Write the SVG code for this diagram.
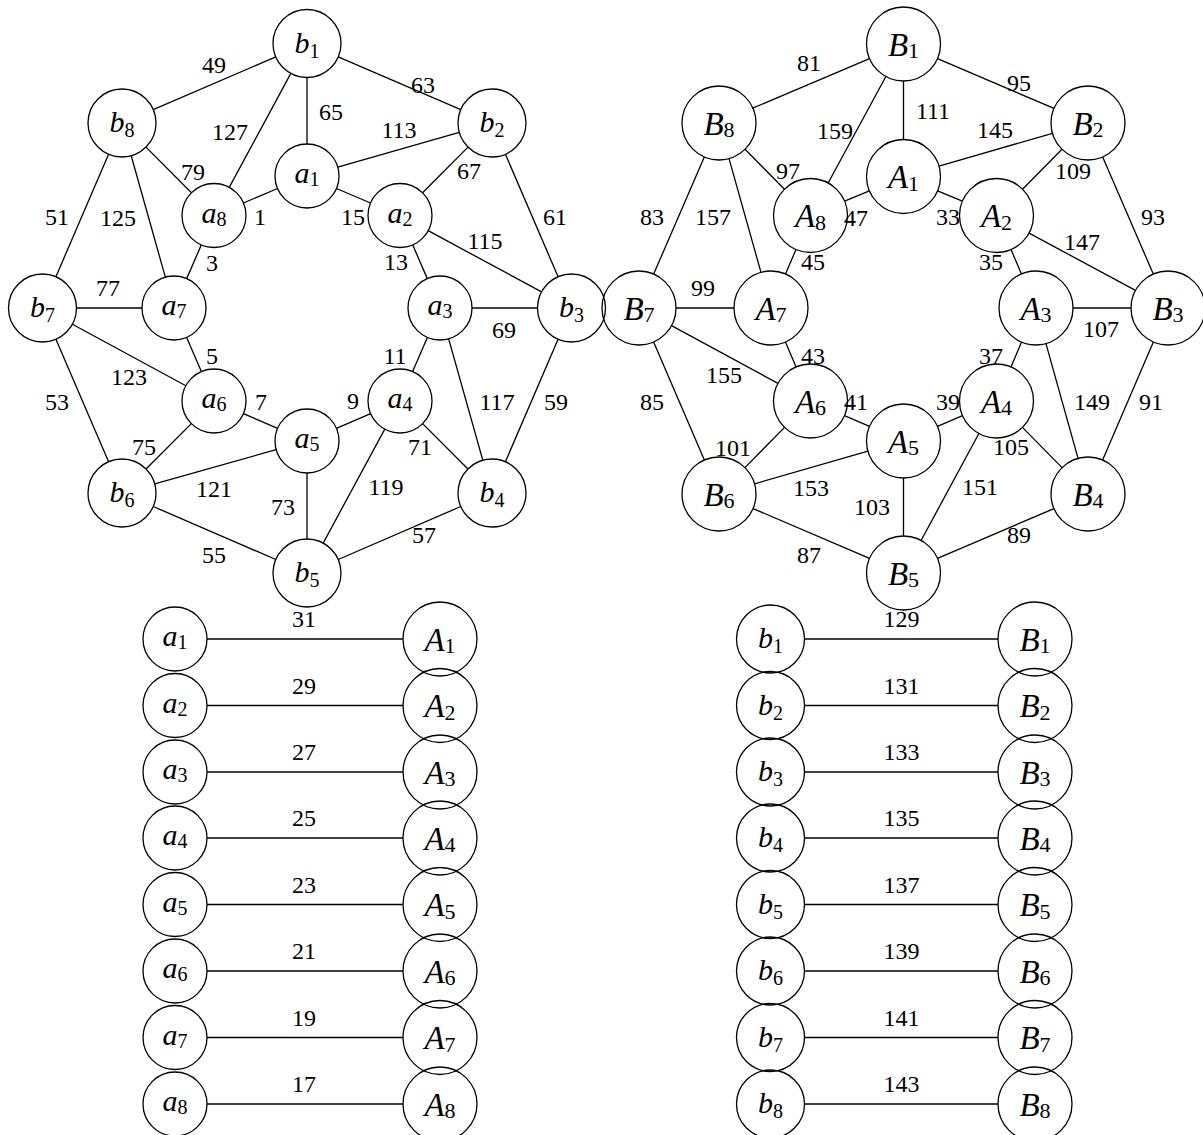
<svg xmlns="http://www.w3.org/2000/svg" width="1203" height="1135" viewBox="0 0 1203 1135">
<style>
.n{fill:none;stroke:#000;stroke-width:1.3}
.e line{stroke:#000;stroke-width:1.3}
.lbl text{font-family:"Liberation Serif","Times New Roman",serif;font-size:24px;text-anchor:middle;fill:#000}
.nl{font-family:"Liberation Serif","Times New Roman",serif;font-size:30px;font-style:italic;text-anchor:middle;fill:#000}
.nu{font-size:33px}
.s{font-style:normal;font-size:20px}
.su{font-style:normal;font-size:22px}
</style>
<rect width="1203" height="1135" fill="#fff"/>
<g id="connectors" class="e">
<line x1="275.76" y1="56.92" x2="153.24" y2="109.58"/>
<line x1="338.24" y1="56.92" x2="460.76" y2="109.58"/>
<line x1="307" y1="77.5" x2="307" y2="144"/>
<line x1="290.83" y1="73.41" x2="229.22" y2="187.35"/>
<line x1="145.97" y1="147.11" x2="191.44" y2="192.81"/>
<line x1="108.58" y1="154.24" x2="55.92" y2="276.76"/>
<line x1="131.2" y1="155.73" x2="165.34" y2="277.19"/>
<line x1="243.45" y1="202.99" x2="277.55" y2="188.51"/>
<line x1="201.3" y1="244.87" x2="186.7" y2="278.63"/>
<line x1="76.5" y1="308" x2="142" y2="308"/>
<line x1="459.32" y1="132.36" x2="337.76" y2="167.19"/>
<line x1="468.03" y1="147.11" x2="422.56" y2="192.81"/>
<line x1="505.42" y1="154.24" x2="558.08" y2="276.76"/>
<line x1="336.45" y1="188.51" x2="370.55" y2="202.99"/>
<line x1="428.17" y1="230.69" x2="541.57" y2="291.86"/>
<line x1="412.7" y1="244.87" x2="427.3" y2="278.63"/>
<line x1="472" y1="308" x2="537.5" y2="308"/>
<line x1="427.36" y1="337.4" x2="412.64" y2="371.6"/>
<line x1="448.66" y1="338.81" x2="482.8" y2="460.27"/>
<line x1="558.08" y1="339.24" x2="505.42" y2="461.76"/>
<line x1="370.6" y1="413.64" x2="336.4" y2="428.36"/>
<line x1="422.63" y1="423.63" x2="467.96" y2="468.96"/>
<line x1="384.78" y1="429.15" x2="323.17" y2="543.09"/>
<line x1="460.79" y1="506.5" x2="338.21" y2="559.5"/>
<line x1="186.64" y1="337.4" x2="201.36" y2="371.6"/>
<line x1="72.39" y1="324.21" x2="185.87" y2="385.75"/>
<line x1="55.92" y1="339.24" x2="108.58" y2="461.76"/>
<line x1="243.4" y1="413.64" x2="277.6" y2="428.36"/>
<line x1="191.37" y1="423.63" x2="146.04" y2="468.96"/>
<line x1="154.73" y1="483.8" x2="276.19" y2="449.66"/>
<line x1="307" y1="473" x2="307" y2="539"/>
<line x1="153.21" y1="506.5" x2="275.79" y2="559.5"/>
<line x1="869.49" y1="58.56" x2="752.01" y2="108.44"/>
<line x1="937.51" y1="58.56" x2="1053.99" y2="108.44"/>
<line x1="903.5" y1="81" x2="903.5" y2="139.5"/>
<line x1="885.86" y1="76.53" x2="828.14" y2="182.97"/>
<line x1="745.02" y1="149.3" x2="784.48" y2="189.2"/>
<line x1="704.31" y1="156.96" x2="653.69" y2="274.04"/>
<line x1="729.01" y1="158.62" x2="760.99" y2="272.38"/>
<line x1="844.62" y1="201.19" x2="869.38" y2="190.81"/>
<line x1="795.97" y1="249.53" x2="785.53" y2="273.97"/>
<line x1="676" y1="308" x2="734" y2="308"/>
<line x1="1052.46" y1="133.3" x2="939.04" y2="166.2"/>
<line x1="1061.98" y1="149.3" x2="1022.52" y2="189.2"/>
<line x1="1102.69" y1="156.96" x2="1153.31" y2="274.04"/>
<line x1="937.62" y1="190.81" x2="962.38" y2="201.19"/>
<line x1="1029.07" y1="233.06" x2="1135.43" y2="290.44"/>
<line x1="1011.03" y1="249.53" x2="1021.47" y2="273.97"/>
<line x1="1073" y1="308" x2="1131" y2="308"/>
<line x1="1021.54" y1="342.05" x2="1010.96" y2="366.95"/>
<line x1="1045.96" y1="343.63" x2="1078.04" y2="458.37"/>
<line x1="1153.38" y1="341.99" x2="1102.62" y2="460.01"/>
<line x1="962.51" y1="415.62" x2="937.49" y2="426.38"/>
<line x1="1022.45" y1="427.37" x2="1062.05" y2="467.63"/>
<line x1="978.9" y1="433.55" x2="921.1" y2="540.45"/>
<line x1="1053.99" y1="508.56" x2="937.51" y2="558.44"/>
<line x1="785.46" y1="342.05" x2="796.04" y2="366.95"/>
<line x1="671.53" y1="325.64" x2="777.97" y2="383.36"/>
<line x1="653.62" y1="341.99" x2="704.38" y2="460.01"/>
<line x1="844.49" y1="415.62" x2="869.51" y2="426.38"/>
<line x1="784.55" y1="427.37" x2="744.95" y2="467.63"/>
<line x1="754.56" y1="483.78" x2="867.94" y2="451.22"/>
<line x1="903.5" y1="478" x2="903.5" y2="536"/>
<line x1="753.01" y1="508.56" x2="869.49" y2="558.44"/>
<line x1="207" y1="639" x2="403" y2="639"/>
<line x1="207" y1="705.5" x2="403" y2="705.5"/>
<line x1="207" y1="772" x2="403" y2="772"/>
<line x1="207" y1="838" x2="403" y2="838"/>
<line x1="207" y1="904.5" x2="403" y2="904.5"/>
<line x1="207" y1="971" x2="403" y2="971"/>
<line x1="207" y1="1037.5" x2="403" y2="1037.5"/>
<line x1="207" y1="1104" x2="403" y2="1104"/>
<line x1="804.5" y1="639" x2="998" y2="639"/>
<line x1="804.5" y1="705.5" x2="998" y2="705.5"/>
<line x1="804.5" y1="772" x2="998" y2="772"/>
<line x1="804.5" y1="838" x2="998" y2="838"/>
<line x1="804.5" y1="904.5" x2="998" y2="904.5"/>
<line x1="804.5" y1="971" x2="998" y2="971"/>
<line x1="804.5" y1="1037.5" x2="998" y2="1037.5"/>
<line x1="804.5" y1="1104" x2="998" y2="1104"/>
</g>
<g id="edge-labels" class="lbl">
<text x="214" y="73">49</text><text x="423" y="93">63</text><text x="331" y="120">65</text><text x="230" y="140">127</text>
<text x="399" y="138">113</text><text x="193" y="180">79</text><text x="469" y="179">67</text><text x="57" y="225">51</text>
<text x="118" y="226">125</text><text x="260" y="225">1</text><text x="353" y="225">15</text><text x="555" y="225">61</text>
<text x="485" y="249">115</text><text x="212" y="271">3</text><text x="396" y="270">13</text><text x="108" y="296">77</text>
<text x="504" y="338">69</text><text x="212" y="364">5</text><text x="395" y="364">11</text><text x="129" y="385">123</text>
<text x="57" y="410">53</text><text x="261" y="410">7</text><text x="353" y="409">9</text><text x="497" y="410">117</text>
<text x="556" y="410">59</text><text x="144" y="455">75</text><text x="420" y="455">71</text><text x="214" y="497">121</text>
<text x="386" y="495">119</text><text x="283" y="515">73</text><text x="424" y="543">57</text><text x="214" y="563">55</text>
<text x="809" y="71">81</text><text x="1019" y="91">95</text><text x="933" y="119">111</text><text x="835" y="139">159</text>
<text x="995" y="138">145</text><text x="788" y="179">97</text><text x="1073" y="179">109</text><text x="652" y="225">83</text>
<text x="713" y="225">157</text><text x="856" y="226">47</text><text x="948" y="225">33</text><text x="1153" y="225">93</text>
<text x="1082" y="250">147</text><text x="813" y="270">45</text><text x="991" y="270">35</text><text x="703" y="296">99</text>
<text x="1101" y="337">107</text><text x="813" y="364">43</text><text x="991" y="364">37</text><text x="724" y="383">155</text>
<text x="652" y="410">85</text><text x="856" y="410">41</text><text x="948" y="410">39</text><text x="1092" y="410">149</text>
<text x="1151" y="410">91</text><text x="733" y="456">101</text><text x="1011" y="455">105</text><text x="811" y="496">153</text>
<text x="980" y="495">151</text><text x="872" y="515">103</text><text x="809" y="563">87</text><text x="1019" y="543">89</text>
<text x="304" y="627">31</text><text x="304" y="693.5">29</text><text x="304" y="760">27</text><text x="304" y="826">25</text>
<text x="304" y="892.5">23</text><text x="304" y="959">21</text><text x="304" y="1025.5">19</text><text x="304" y="1092">17</text>
<text x="901.5" y="627">129</text><text x="901.5" y="693.5">131</text><text x="901.5" y="760">133</text><text x="901.5" y="826">135</text>
<text x="901.5" y="892.5">137</text><text x="901.5" y="959">139</text><text x="901.5" y="1025.5">141</text><text x="901.5" y="1092">143</text>
</g>
<g id="left-graph">
<g id="g1-b1"><circle class="n" cx="307" cy="43.5" r="34"/><text class="nl" x="307" y="52.5">b<tspan class="s" dy="5">1</tspan></text></g>
<g id="g1-b2"><circle class="n" cx="492" cy="123" r="34"/><text class="nl" x="492" y="132">b<tspan class="s" dy="5">2</tspan></text></g>
<g id="g1-b3"><circle class="n" cx="571.5" cy="308" r="34"/><text class="nl" x="571.5" y="317">b<tspan class="s" dy="5">3</tspan></text></g>
<g id="g1-b4"><circle class="n" cx="492" cy="493" r="34"/><text class="nl" x="492" y="502">b<tspan class="s" dy="5">4</tspan></text></g>
<g id="g1-b5"><circle class="n" cx="307" cy="573" r="34"/><text class="nl" x="307" y="582">b<tspan class="s" dy="5">5</tspan></text></g>
<g id="g1-b6"><circle class="n" cx="122" cy="493" r="34"/><text class="nl" x="122" y="502">b<tspan class="s" dy="5">6</tspan></text></g>
<g id="g1-b7"><circle class="n" cx="42.5" cy="308" r="34"/><text class="nl" x="42.5" y="317">b<tspan class="s" dy="5">7</tspan></text></g>
<g id="g1-b8"><circle class="n" cx="122" cy="123" r="34"/><text class="nl" x="122" y="132">b<tspan class="s" dy="5">8</tspan></text></g>
<g id="g1-a1"><circle class="n" cx="307" cy="176" r="32"/><text class="nl" x="307" y="183">a<tspan class="s" dy="3">1</tspan></text></g>
<g id="g1-a2"><circle class="n" cx="400" cy="215.5" r="32"/><text class="nl" x="400" y="222.5">a<tspan class="s" dy="3">2</tspan></text></g>
<g id="g1-a3"><circle class="n" cx="440" cy="308" r="32"/><text class="nl" x="440" y="315">a<tspan class="s" dy="3">3</tspan></text></g>
<g id="g1-a4"><circle class="n" cx="400" cy="401" r="32"/><text class="nl" x="400" y="408">a<tspan class="s" dy="3">4</tspan></text></g>
<g id="g1-a5"><circle class="n" cx="307" cy="441" r="32"/><text class="nl" x="307" y="448">a<tspan class="s" dy="3">5</tspan></text></g>
<g id="g1-a6"><circle class="n" cx="214" cy="401" r="32"/><text class="nl" x="214" y="408">a<tspan class="s" dy="3">6</tspan></text></g>
<g id="g1-a7"><circle class="n" cx="174" cy="308" r="32"/><text class="nl" x="174" y="315">a<tspan class="s" dy="3">7</tspan></text></g>
<g id="g1-a8"><circle class="n" cx="214" cy="215.5" r="32"/><text class="nl" x="214" y="222.5">a<tspan class="s" dy="3">8</tspan></text></g>
</g>
<g id="right-graph">
<g id="g2-B1"><circle class="n" cx="903.5" cy="44" r="37"/><text class="nl nu" x="903.5" y="55.5">B<tspan class="su" dy="2.5">1</tspan></text></g>
<g id="g2-B2"><circle class="n" cx="1088" cy="123" r="37"/><text class="nl nu" x="1088" y="134.5">B<tspan class="su" dy="2.5">2</tspan></text></g>
<g id="g2-B3"><circle class="n" cx="1168" cy="308" r="37"/><text class="nl nu" x="1168" y="319.5">B<tspan class="su" dy="2.5">3</tspan></text></g>
<g id="g2-B4"><circle class="n" cx="1088" cy="494" r="37"/><text class="nl nu" x="1088" y="505.5">B<tspan class="su" dy="2.5">4</tspan></text></g>
<g id="g2-B5"><circle class="n" cx="903.5" cy="573" r="37"/><text class="nl nu" x="903.5" y="584.5">B<tspan class="su" dy="2.5">5</tspan></text></g>
<g id="g2-B6"><circle class="n" cx="719" cy="494" r="37"/><text class="nl nu" x="719" y="505.5">B<tspan class="su" dy="2.5">6</tspan></text></g>
<g id="g2-B7"><circle class="n" cx="639" cy="308" r="37"/><text class="nl nu" x="639" y="319.5">B<tspan class="su" dy="2.5">7</tspan></text></g>
<g id="g2-B8"><circle class="n" cx="719" cy="123" r="37"/><text class="nl nu" x="719" y="134.5">B<tspan class="su" dy="2.5">8</tspan></text></g>
<g id="g2-A1"><circle class="n" cx="903.5" cy="176.5" r="37"/><text class="nl nu" x="903.5" y="188">A<tspan class="su" dy="2.5">1</tspan></text></g>
<g id="g2-A2"><circle class="n" cx="996.5" cy="215.5" r="37"/><text class="nl nu" x="996.5" y="227">A<tspan class="su" dy="2.5">2</tspan></text></g>
<g id="g2-A3"><circle class="n" cx="1036" cy="308" r="37"/><text class="nl nu" x="1036" y="319.5">A<tspan class="su" dy="2.5">3</tspan></text></g>
<g id="g2-A4"><circle class="n" cx="996.5" cy="401" r="37"/><text class="nl nu" x="996.5" y="412.5">A<tspan class="su" dy="2.5">4</tspan></text></g>
<g id="g2-A5"><circle class="n" cx="903.5" cy="441" r="37"/><text class="nl nu" x="903.5" y="452.5">A<tspan class="su" dy="2.5">5</tspan></text></g>
<g id="g2-A6"><circle class="n" cx="810.5" cy="401" r="37"/><text class="nl nu" x="810.5" y="412.5">A<tspan class="su" dy="2.5">6</tspan></text></g>
<g id="g2-A7"><circle class="n" cx="771" cy="308" r="37"/><text class="nl nu" x="771" y="319.5">A<tspan class="su" dy="2.5">7</tspan></text></g>
<g id="g2-A8"><circle class="n" cx="810.5" cy="215.5" r="37"/><text class="nl nu" x="810.5" y="227">A<tspan class="su" dy="2.5">8</tspan></text></g>
</g>
<g id="list-left">
<g id="l-a1"><circle class="n" cx="175" cy="639" r="32"/><text class="nl" x="175" y="646">a<tspan class="s" dy="3">1</tspan></text></g>
<g id="l-a2"><circle class="n" cx="175" cy="705.5" r="32"/><text class="nl" x="175" y="712.5">a<tspan class="s" dy="3">2</tspan></text></g>
<g id="l-a3"><circle class="n" cx="175" cy="772" r="32"/><text class="nl" x="175" y="779">a<tspan class="s" dy="3">3</tspan></text></g>
<g id="l-a4"><circle class="n" cx="175" cy="838" r="32"/><text class="nl" x="175" y="845">a<tspan class="s" dy="3">4</tspan></text></g>
<g id="l-a5"><circle class="n" cx="175" cy="904.5" r="32"/><text class="nl" x="175" y="911.5">a<tspan class="s" dy="3">5</tspan></text></g>
<g id="l-a6"><circle class="n" cx="175" cy="971" r="32"/><text class="nl" x="175" y="978">a<tspan class="s" dy="3">6</tspan></text></g>
<g id="l-a7"><circle class="n" cx="175" cy="1037.5" r="32"/><text class="nl" x="175" y="1044.5">a<tspan class="s" dy="3">7</tspan></text></g>
<g id="l-a8"><circle class="n" cx="175" cy="1104" r="32"/><text class="nl" x="175" y="1111">a<tspan class="s" dy="3">8</tspan></text></g>
<g id="l-A1"><circle class="n" cx="440" cy="639" r="37"/><text class="nl nu" x="440" y="650.5">A<tspan class="su" dy="2.5">1</tspan></text></g>
<g id="l-A2"><circle class="n" cx="440" cy="705.5" r="37"/><text class="nl nu" x="440" y="717">A<tspan class="su" dy="2.5">2</tspan></text></g>
<g id="l-A3"><circle class="n" cx="440" cy="772" r="37"/><text class="nl nu" x="440" y="783.5">A<tspan class="su" dy="2.5">3</tspan></text></g>
<g id="l-A4"><circle class="n" cx="440" cy="838" r="37"/><text class="nl nu" x="440" y="849.5">A<tspan class="su" dy="2.5">4</tspan></text></g>
<g id="l-A5"><circle class="n" cx="440" cy="904.5" r="37"/><text class="nl nu" x="440" y="916">A<tspan class="su" dy="2.5">5</tspan></text></g>
<g id="l-A6"><circle class="n" cx="440" cy="971" r="37"/><text class="nl nu" x="440" y="982.5">A<tspan class="su" dy="2.5">6</tspan></text></g>
<g id="l-A7"><circle class="n" cx="440" cy="1037.5" r="37"/><text class="nl nu" x="440" y="1049">A<tspan class="su" dy="2.5">7</tspan></text></g>
<g id="l-A8"><circle class="n" cx="440" cy="1104" r="37"/><text class="nl nu" x="440" y="1115.5">A<tspan class="su" dy="2.5">8</tspan></text></g>
</g>
<g id="list-right">
<g id="l-b1"><circle class="n" cx="770.5" cy="639" r="34"/><text class="nl" x="770.5" y="648">b<tspan class="s" dy="5">1</tspan></text></g>
<g id="l-b2"><circle class="n" cx="770.5" cy="705.5" r="34"/><text class="nl" x="770.5" y="714.5">b<tspan class="s" dy="5">2</tspan></text></g>
<g id="l-b3"><circle class="n" cx="770.5" cy="772" r="34"/><text class="nl" x="770.5" y="781">b<tspan class="s" dy="5">3</tspan></text></g>
<g id="l-b4"><circle class="n" cx="770.5" cy="838" r="34"/><text class="nl" x="770.5" y="847">b<tspan class="s" dy="5">4</tspan></text></g>
<g id="l-b5"><circle class="n" cx="770.5" cy="904.5" r="34"/><text class="nl" x="770.5" y="913.5">b<tspan class="s" dy="5">5</tspan></text></g>
<g id="l-b6"><circle class="n" cx="770.5" cy="971" r="34"/><text class="nl" x="770.5" y="980">b<tspan class="s" dy="5">6</tspan></text></g>
<g id="l-b7"><circle class="n" cx="770.5" cy="1037.5" r="34"/><text class="nl" x="770.5" y="1046.5">b<tspan class="s" dy="5">7</tspan></text></g>
<g id="l-b8"><circle class="n" cx="770.5" cy="1104" r="34"/><text class="nl" x="770.5" y="1113">b<tspan class="s" dy="5">8</tspan></text></g>
<g id="l-B1"><circle class="n" cx="1035" cy="639" r="37"/><text class="nl nu" x="1035" y="650.5">B<tspan class="su" dy="2.5">1</tspan></text></g>
<g id="l-B2"><circle class="n" cx="1035" cy="705.5" r="37"/><text class="nl nu" x="1035" y="717">B<tspan class="su" dy="2.5">2</tspan></text></g>
<g id="l-B3"><circle class="n" cx="1035" cy="772" r="37"/><text class="nl nu" x="1035" y="783.5">B<tspan class="su" dy="2.5">3</tspan></text></g>
<g id="l-B4"><circle class="n" cx="1035" cy="838" r="37"/><text class="nl nu" x="1035" y="849.5">B<tspan class="su" dy="2.5">4</tspan></text></g>
<g id="l-B5"><circle class="n" cx="1035" cy="904.5" r="37"/><text class="nl nu" x="1035" y="916">B<tspan class="su" dy="2.5">5</tspan></text></g>
<g id="l-B6"><circle class="n" cx="1035" cy="971" r="37"/><text class="nl nu" x="1035" y="982.5">B<tspan class="su" dy="2.5">6</tspan></text></g>
<g id="l-B7"><circle class="n" cx="1035" cy="1037.5" r="37"/><text class="nl nu" x="1035" y="1049">B<tspan class="su" dy="2.5">7</tspan></text></g>
<g id="l-B8"><circle class="n" cx="1035" cy="1104" r="37"/><text class="nl nu" x="1035" y="1115.5">B<tspan class="su" dy="2.5">8</tspan></text></g>
</g>
</svg>
